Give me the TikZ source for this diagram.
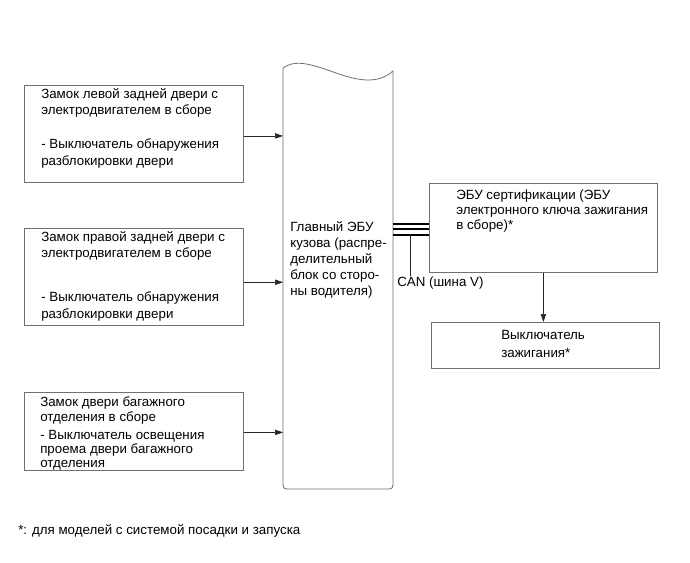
\documentclass[tikz,border=0pt]{standalone}
\usepackage{fontspec}
\setmainfont{Liberation Sans}
\usetikzlibrary{arrows.meta}
\definecolor{linegray}{HTML}{707070}
\begin{document}
\begin{tikzpicture}[x=0.75pt,y=-0.75pt,
  box/.style={draw=linegray, line width=0.6pt, inner sep=0pt, anchor=north west},
  txt/.style={anchor=north west, inner sep=0pt, align=left, font=\fontsize{10}{12.4}\selectfont},
  arr/.style={draw=black!85, line width=0.5pt, -{Triangle[length=6pt,width=4pt]}},
  canline/.style={line width=1.5pt, black}]
\useasboundingbox[fill=white] (0,0) rectangle (690,562);

% left boxes
\node[box, minimum width=164.25pt, minimum height=72.75pt] (b1) at (24,85) {};
\node[box, minimum width=164.25pt, minimum height=72.75pt] (b2) at (24,228) {};
\node[box, minimum width=164.25pt, minimum height=58.5pt] (b3) at (24,392) {};

\node[txt] (t1) at (41,88) {Замок левой задней двери с\\электродвигателем в сборе\\[13pt]- Выключатель обнаружения\\разблокировки двери};
\node[txt] (t2) at (41,231) {Замок правой задней двери с\\электродвигателем в сборе\\[20.5pt]- Выключатель обнаружения\\разблокировки двери};
\node[txt, font=\fontsize{10}{10.5}\selectfont] (t3) at (40,396) {Замок двери багажного\\[1pt]отделения в сборе\\[3pt]- Выключатель освещения\\проема двери багажного\\отделения};

% main ECU
\draw[draw=linegray, line width=0.6pt] (283,68) .. controls (310,48) and (360,100) .. (393,71)
  -- (393,481) .. controls (393,489) .. (385,489) -- (291,489) .. controls (283,489) .. (283,481) -- cycle;
\coordinate (ecuL) at (283,300);
\coordinate (ecuR) at (393,300);
\node[txt, font=\fontsize{10}{12}\selectfont] (tecu) at (290,221) {Главный ЭБУ\\кузова (распре-\\делительный\\блок со сторо-\\ны водителя)};

% arrows into ECU
\draw[arr] ([yshift=-1.5pt]b1.east) -- ([yshift=-1.5pt]b1.east -| ecuL);
\draw[arr] ([yshift=-4pt]b2.east) -- ([yshift=-4pt]b2.east -| ecuL);
\draw[arr] ([yshift=-0.75pt]b3.east) -- ([yshift=-0.75pt]b3.east -| ecuL);

% right boxes
\node[box, minimum width=171pt, minimum height=66.75pt] (cert) at (429,183) {};
\node[box, minimum width=171pt, minimum height=34.5pt] (ign) at (431,322) {};
\node[txt, font=\fontsize{10}{11.25}\selectfont] (tcert) at (456,190) {ЭБУ сертификации (ЭБУ\\электронного ключа зажигания\\в сборе)*};
\node[txt, font=\fontsize{10}{13.5}\selectfont] (tign) at (501,330) {Выключатель\\зажигания*};
\draw[arr] (cert.south) -- (cert.south |- ign.north);

% CAN bus
\coordinate (c1) at (393,223.5);
\coordinate (c2) at (393,229);
\coordinate (c3) at (393,234.5);
\draw[canline] (c1) -- (c1 -| cert.west);
\draw[canline] (c2) -- (c2 -| cert.west);
\draw[canline] (c3) -- (c3 -| cert.west);
\coordinate (cv1) at (410,234);
\coordinate (cv2) at (410,276);
\draw[draw=black!85, line width=0.5pt] (cv1) -- (cv2);
\node[txt] (tcan) at (397,277) {CAN (шина V)};

% footnote
\node[txt] (foot) at (18,524) {*: для моделей с системой посадки и запуска};
\end{tikzpicture}
\end{document}
